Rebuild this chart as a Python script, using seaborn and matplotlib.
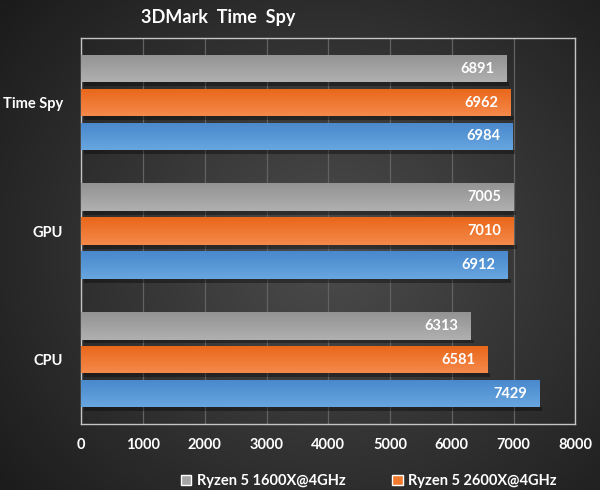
import numpy as np
import pandas as pd
import seaborn as sns
import matplotlib.pyplot as plt
import matplotlib.colors as mcolors
from matplotlib.patches import Patch

categories = ['Time Spy', 'GPU', 'CPU']
cpus = ['Ryzen 5 1600X@4GHz', 'Ryzen 5 2600X@4GHz', 'Ryzen 7 2700X@4GHz']
r5_1600x = [6891, 7005, 6313]
r5_2600x = [6962, 7010, 6581]
r7_2700x = [6984, 6912, 7429]
x_ticks = [0, 1000, 2000, 3000, 4000, 5000, 6000, 7000, 8000]

colors = ['#a5a5a5', '#f07a2e', '#5898d8']
grads = [('#b0b0b0', '#939393'), ('#f6894a', '#e8671a'), ('#68a6e0', '#4888cc')]

data = pd.DataFrame({
    'test': categories * 3,
    'cpu': [cpus[0]] * 3 + [cpus[1]] * 3 + [cpus[2]] * 3,
    'score': r5_1600x + r5_2600x + r7_2700x,
})

sns.set_style('dark')
plt.rcParams['font.family'] = ['Lato', 'DejaVu Sans']

fig = plt.figure(figsize=(6, 4.9), dpi=100)

# radial dark background
bg = fig.add_axes([0, 0, 1, 1], zorder=-10)
yy, xx = np.mgrid[0:490, 0:600]
r = np.sqrt(((xx - 330) / 420.0) ** 2 + ((yy - 250) / 380.0) ** 2)
r = np.clip(r, 0, 1)
bg_cmap = mcolors.LinearSegmentedColormap.from_list('bg', ['#4c4c4c', '#1c1c1c'])
bg.imshow(r, cmap=bg_cmap, aspect='auto', extent=[0, 1, 0, 1], origin='upper')
bg.axis('off')

ax = fig.add_axes([0.1355, 0.1347, 0.8233, 0.7873])
ax.patch.set_alpha(0)

sns.barplot(data=data, y='test', x='score', hue='cpu', order=categories,
            hue_order=cpus, palette=colors, orient='h', width=0.79,
            gap=0.185, saturation=1, legend=False, ax=ax, zorder=3,
            linewidth=0, edgecolor='none')

# vertical gradient inside each bar
for ci, cont in enumerate(ax.containers):
    cmap = mcolors.LinearSegmentedColormap.from_list('g%d' % ci, list(grads[ci]))
    for bar in cont:
        x0, y0 = bar.get_x(), bar.get_y()
        w, h = bar.get_width(), bar.get_height()
        im = ax.imshow(np.linspace(0, 1, 50).reshape(-1, 1), cmap=cmap,
                       aspect='auto', extent=[x0, x0 + w, y0 + h, y0],
                       origin='lower', zorder=3.5)
        im.set_clip_path(bar)
        # soft shadow under the bar
        ax.fill_between([x0 + 40, x0 + w + 40], y0 + h, y0 + h + 0.03,
                        color='black', alpha=0.35, lw=0, zorder=2.5)
    texts = ax.bar_label(cont, padding=-9, color='white', fontsize=10.5,
                         fontweight='bold', zorder=5)
    for t in texts:
        t.set_ha('right')

ax.set_xlim(0, 8000)
ax.set_ylim(2.5, -0.5)
ax.set_xticks(x_ticks)
ax.grid(axis='x', color='#626262', lw=0.9, zorder=0)
ax.grid(axis='y', visible=False)
for s in ax.spines.values():
    s.set_visible(True)
    s.set_color('#c4c4c4')
    s.set_linewidth(1.0)
ax.tick_params(axis='both', length=0, colors='white', labelsize=10.5)
ax.tick_params(axis='x', pad=10)
ax.tick_params(axis='y', pad=13)
for lbl in ax.get_xticklabels() + ax.get_yticklabels():
    lbl.set_fontweight('bold')
ax.set_xlabel('')
ax.set_ylabel('')

fig.text(218 / 600, 1 - 17 / 490, '3DMark  Time  Spy', color='white',
         fontsize=13, fontweight='bold', ha='center', va='center')

handles = [Patch(facecolor=colors[0]), Patch(facecolor=colors[1])]
leg = fig.legend(handles, cpus[:2], loc='center', ncol=2,
                 bbox_to_anchor=(369 / 600, 1 - 481 / 490), frameon=False,
                 handlelength=0.7, handleheight=0.7, handletextpad=0.4,
                 columnspacing=3.2, fontsize=10.5)
for t in leg.get_texts():
    t.set_color('white')
    t.set_fontweight('bold')

fig.savefig('out.png', dpi=100)
